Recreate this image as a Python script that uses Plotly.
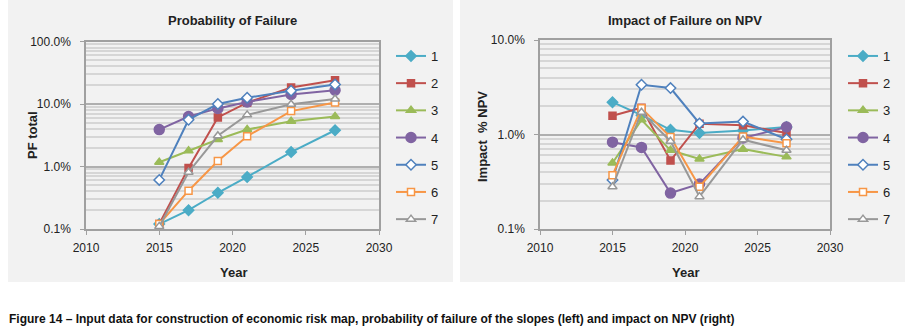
import plotly.graph_objects as go

years = [2015, 2017, 2019, 2021, 2024, 2027]
series_names = ["1", "2", "3", "4", "5", "6", "7"]

# Probability of failure (fractions)
pf_1 = [0.0012, 0.0020, 0.0038, 0.0068, 0.017, 0.038]
pf_2 = [0.0012, 0.0095, 0.061, 0.105, 0.184, 0.24]
pf_3 = [0.0117, 0.0178, 0.027, 0.039, 0.053, 0.063]
pf_4 = [0.039, 0.063, 0.085, 0.108, 0.142, 0.166]
pf_5 = [0.0061, 0.056, 0.100, 0.126, 0.163, 0.205]
pf_6 = [0.0012, 0.0041, 0.0122, 0.0305, 0.077, 0.106]
pf_7 = [0.0011, 0.0081, 0.031, 0.067, 0.099, 0.120]

# Impact of failure on NPV (fractions)
npv_1 = [0.022, 0.016, 0.0112, 0.0104, 0.0110, 0.0120]
npv_2 = [0.0158, 0.0192, 0.0053, 0.0130, 0.0125, 0.0104]
npv_3 = [0.0050, 0.0143, 0.0068, 0.0055, 0.0070, 0.0058]
npv_4 = [0.0083, 0.0073, 0.0024, 0.0030, 0.0092, 0.0120]
npv_5 = [0.0033, 0.0336, 0.0310, 0.0131, 0.0137, 0.0089]
npv_6 = [0.0037, 0.0190, 0.0094, 0.0028, 0.0095, 0.0081]
npv_7 = [0.0028, 0.0172, 0.0085, 0.0022, 0.0088, 0.0068]

pf_series = [pf_1, pf_2, pf_3, pf_4, pf_5, pf_6, pf_7]
npv_series = [npv_1, npv_2, npv_3, npv_4, npv_5, npv_6, npv_7]

colors = ["#4BACC6", "#C0504D", "#9BBB59", "#8064A2", "#4F81BD", "#F79646", "#989898"]
symbols = ["diamond", "square", "triangle-up", "circle", "diamond", "square", "triangle-up"]
fills = [None, None, None, None, "white", "white", "white"]
sizes = [8, 7, 8, 10, 8, 7, 8]

W, H = 908, 331
FONT = "Arial, Liberation Sans, sans-serif"

def px_x(p):
    return p / W

def px_y(p):
    return 1 - p / H

fig = go.Figure()

for i in range(7):
    for which, data, xa, ya, lg in [("L", pf_series[i], "x", "y", "legend"),
                                     ("R", npv_series[i], "x2", "y2", "legend2")]:
        fig.add_trace(go.Scatter(
            x=years, y=data, name=series_names[i],
            xaxis=xa, yaxis=ya, legend=lg, legendgroup=which + series_names[i],
            mode="lines+markers",
            line=dict(color=colors[i], width=2),
            marker=dict(symbol=symbols[i], size=sizes[i],
                        color=fills[i] if fills[i] else colors[i],
                        line=dict(color=colors[i], width=1.5)),
        ))

# Panel backgrounds
for x0, x1 in [(8, 453), (460, 905)]:
    fig.add_shape(type="rect", xref="paper", yref="paper",
                  x0=px_x(x0), x1=px_x(x1), y0=px_y(282), y1=px_y(0),
                  fillcolor="#F2F2F2", line=dict(width=0), layer="below")

minor_pf = [m * 10 ** e for e in (-3, -2, -1) for m in range(2, 10)]
minor_npv = [m * 10 ** e for e in (-3, -2) for m in range(2, 10)]

common_x = dict(range=[2010, 2030], tickvals=[2010, 2015, 2020, 2025, 2030],
                ticks="outside", ticklen=4, tickcolor="#A0A0A0",
                showgrid=False, showline=True, linecolor="#A0A0A0", linewidth=1.5,
                mirror=True, tickfont=dict(size=12, color="#222", family=FONT),
                ticklabelstandoff=3, automargin=False, zeroline=False)

common_y = dict(type="log", ticks="outside", ticklen=4, tickcolor="#A0A0A0",
                showgrid=True, gridcolor="#AFAFAF", gridwidth=1.5,
                showline=True, linecolor="#A0A0A0", linewidth=1.5, mirror=True,
                ticklabelstandoff=7, automargin=False,
                tickfont=dict(size=12, color="#222", family=FONT), zeroline=False)

def ann(text, x, y, angle=0, size=13):
    return dict(text=text, xref="paper", yref="paper", x=px_x(x), y=px_y(y),
                xanchor="center", yanchor="middle", showarrow=False, textangle=angle,
                font=dict(size=size, color="#222", family=FONT))

fig.update_layout(
    width=W, height=H,
    margin=dict(l=0, r=0, t=0, b=0, autoexpand=False),
    paper_bgcolor="white", plot_bgcolor="white",
    font=dict(family=FONT, color="#222"),
    xaxis=dict(domain=[px_x(86), px_x(379)], anchor="y", **common_x),
    yaxis=dict(domain=[px_y(229), px_y(41.5)], anchor="x", range=[-3, 0],
               tickvals=[0.001, 0.01, 0.1, 1], ticktext=["0.1%", "1.0%", "10.0%", "100.0%"],
               minor=dict(tickmode="array", tickvals=minor_pf, showgrid=True,
                          gridcolor="#D6D6D6", gridwidth=1.5, ticks=""),
               **common_y),
    xaxis2=dict(domain=[px_x(540), px_x(830)], anchor="y2", **common_x),
    yaxis2=dict(domain=[px_y(229), px_y(40)], anchor="x2", range=[-3, -1],
                tickvals=[0.001, 0.01, 0.1], ticktext=["0.1%", "1.0%", "10.0%"],
                minor=dict(tickmode="array", tickvals=minor_npv, showgrid=True,
                           gridcolor="#D6D6D6", gridwidth=1.5, ticks=""),
                **common_y),
    legend=dict(x=px_x(391), y=px_y(41), xanchor="left", yanchor="top",
                bgcolor="rgba(0,0,0,0)", font=dict(size=13, color="#222", family=FONT),
                tracegroupgap=7.3, itemwidth=30),
    legend2=dict(x=px_x(843), y=px_y(41), xanchor="left", yanchor="top",
                 bgcolor="rgba(0,0,0,0)", font=dict(size=13, color="#222", family=FONT),
                 tracegroupgap=7.3, itemwidth=30),
    showlegend=True,
    annotations=[
        ann("<b>Probability of Failure</b>", 232, 20),
        ann("<b>Impact of Failure on NPV</b>", 685, 20),
        ann("<b>Year</b>", 233, 272),
        ann("<b>Year</b>", 685, 272),
        ann("<b>PF total</b>", 32, 135, angle=-90),
        ann("<b>Impact  % NPV</b>", 482, 137, angle=-90),
        dict(text="<b>Figure 14 – Input data for construction of economic risk map, probability of failure of the slopes (left) and impact on NPV (right)</b>",
             xref="paper", yref="paper", x=px_x(7), y=px_y(319), xanchor="left", yanchor="middle",
             align="left", showarrow=False, font=dict(size=12, color="#111", family=FONT)),
    ],
)

fig.write_html("out.html", config={"displayModeBar": False},
               post_script="document.body.style.margin='0';document.body.style.overflow='hidden';")
